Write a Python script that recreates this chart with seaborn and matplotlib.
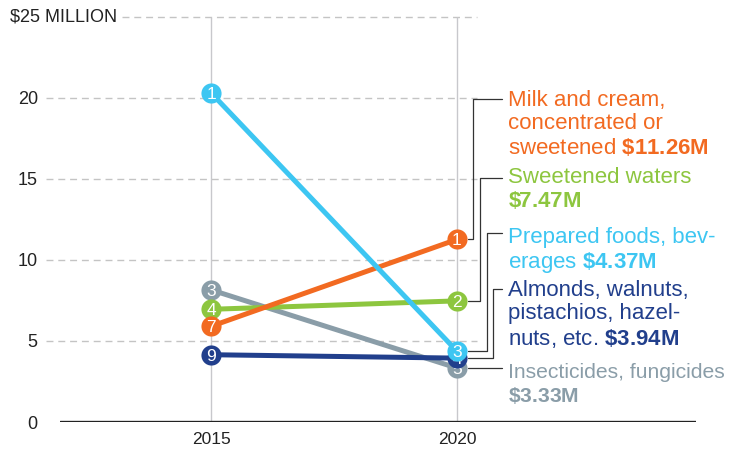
import numpy as np
import pandas as pd
import matplotlib.pyplot as plt
import seaborn as sns

# Slope chart: export value 2015 vs 2020 ($ million), drawn back-to-front
years = [2015, 2020]
items = ["Insecticides", "Almonds", "Sweetened waters", "Milk and cream", "Prepared foods"]
v2015 = [8.15, 4.15, 6.95, 5.9, 20.3]
v2020 = [3.33, 3.94, 7.47, 11.26, 4.37]
rank2015 = [3, 9, 4, 7, 1]
rank2020 = [5, 4, 2, 1, 3]
colors = ["#8A9DA8", "#213F8C", "#8DC63F", "#F26A21", "#3DC6F2"]
labels = [
    "Insecticides, fungicides\n$\\mathbf{\\$3.33M}$",
    "Almonds, walnuts,\npistachios, hazel-\nnuts, etc. $\\mathbf{\\$3.94M}$",
    "Sweetened waters\n$\\mathbf{\\$7.47M}$",
    "Milk and cream,\nconcentrated or\nsweetened $\\mathbf{\\$11.26M}$",
    "Prepared foods, bev-\nerages $\\mathbf{\\$4.37M}$",
]
yticks = [0, 5, 10, 15, 20]

# label layout (data units): text top, leader end height, elbow x
label_top = [3.64, 8.77, 15.74, 20.49, 12.04]
label_size = [15.2, 16, 16, 16, 16]
leader_y = [3.33, 8.21, 15.06, 19.94, 11.67]
elbow_x = [None, 2020.73, 2020.467, 2020.325, 2020.61]

sns.set_style("white")
plt.rcParams["font.family"] = ["Liberation Sans", "DejaVu Sans"]
plt.rcParams["mathtext.fontset"] = "custom"
plt.rcParams["mathtext.rm"] = "Liberation Sans"
plt.rcParams["mathtext.bf"] = "Liberation Sans:bold"

fig = plt.figure(figsize=(7.31, 4.55), dpi=100)
ax = fig.add_axes([0.0821, 0.0725, 0.870, 0.891])

for i, item in enumerate(items):
    df = pd.DataFrame({"year": years, "value": [v2015[i], v2020[i]]})
    sns.lineplot(data=df, x="year", y="value", color=colors[i], linewidth=3.6,
                 marker="o", markersize=14.5, markeredgewidth=0, zorder=3 + i, ax=ax)
    for x, v, r in zip(years, [v2015[i], v2020[i]], [rank2015[i], rank2020[i]]):
        ax.text(x, v, str(r), color="white", fontsize=12.5, ha="center",
                va="center_baseline", zorder=3.5 + i)

    # leader line from 2020 point to label
    x0, x1 = 2020.22, 2020.915
    if elbow_x[i] is None:
        ax.plot([x0, x1], [v2020[i], v2020[i]], color="#333333", lw=0.9, zorder=2)
    else:
        ax.plot([x0, elbow_x[i], elbow_x[i], x1],
                [v2020[i], v2020[i], leader_y[i], leader_y[i]],
                color="#333333", lw=0.9, zorder=2)
    ax.text(2021.04, label_top[i], labels[i], color=colors[i], fontsize=label_size[i],
            ha="left", va="top", linespacing=1.15)

# grid
ax.hlines(yticks[1:], -0.022, 0.656, transform=ax.get_yaxis_transform(),
          colors="#c4c4c4", linestyles=(0, (5, 3.5)), linewidth=1, clip_on=False, zorder=1)
ax.hlines([25], 0.097, 0.656, transform=ax.get_yaxis_transform(),
          colors="#c4c4c4", linestyles=(0, (5, 3.5)), linewidth=1, clip_on=False, zorder=1)
ax.vlines(years, 0, 25, colors="#c8c8cc", linewidth=1, zorder=1)
ax.axhline(0, color="#222222", linewidth=2.4, zorder=2)
ax.text(0.0896, 25, "$25 MILLION", transform=ax.get_yaxis_transform(),
        ha="right", va="center", fontsize=13, color="#222222")

ax.set_xlim(2011.93, 2024.86)
ax.set_ylim(0, 25)
ax.set_xticks(years)
ax.set_xticklabels([str(y) for y in years], fontsize=12.5, color="#222222")
ax.set_yticks(yticks)
ax.set_yticklabels([str(t) for t in yticks], fontsize=13, color="#222222")
ax.tick_params(axis="x", length=0, pad=7)
ax.tick_params(axis="y", length=0, pad=16)
ax.set_xlabel("")
ax.set_ylabel("")
sns.despine(ax=ax, left=True, bottom=True)

fig.savefig("out.png", dpi=100)
